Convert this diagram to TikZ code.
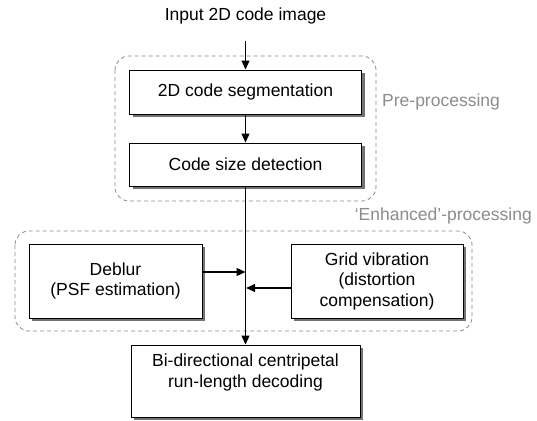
\documentclass[tikz,border=0pt]{standalone}
\usepackage{fontspec}
\setmainfont{Liberation Sans}
\usetikzlibrary{arrows.meta,shadows}
\begin{document}
\begin{tikzpicture}[x=1pt,y=-1pt,
  every node/.style={font=\fontsize{17.5}{20.5}\selectfont},
  procbox/.style={draw=black,line width=1pt,fill=white,align=center,inner sep=0pt,
    drop shadow={shadow xshift=3pt,shadow yshift=-3pt,fill=black!55,opacity=1}},
  group/.style={draw=black!45,line width=0.8pt,dash pattern=on 4pt off 3pt,rounded corners=14pt},
  grouplabel/.style={text=black!45,inner sep=0pt},
  flow/.style={line width=1.2pt,-{Triangle[length=9pt,width=8pt]}},
  plain/.style={line width=1.2pt}]
\useasboundingbox (0,0) rectangle (537,420);
\fill[white] (0,0) rectangle (537,420);
% groups
\draw[group] (115,56) rectangle (376,201);
\draw[group] (15,231) rectangle (472,331);
\node[grouplabel,anchor=west] (prelab) at (382,102) {Pre-processing};
\node[grouplabel,anchor=east] (enhlab) at (532,216) {‘Enhanced’-processing};
% nodes
\node[inner sep=0pt] (input) at (245.5,16) {Input 2D code image};
\coordinate (instart) at (245.5,41);
\node[procbox,minimum width=232pt,minimum height=44pt] (seg) at (245.5,92) {2D code segmentation};
\node[procbox,minimum width=232pt,minimum height=43pt] (size) at (245.5,164.5) {Code size detection};
\node[procbox,minimum width=173pt,minimum height=74pt] (deblur) at (115.5,281) {Deblur\\(PSF estimation)};
\node[procbox,minimum width=172pt,minimum height=74pt] (grid) at (377,281) {Grid vibration\\(distortion\\compensation)};
\node[procbox,minimum width=229pt,minimum height=72pt] (dec) at (245.5,381) {};
\node[inner sep=0pt,align=center,anchor=north] (dectext) at (245.5,354) {Bi-directional centripetal\\run-length decoding};
\coordinate (j1) at (245.5,272);
\coordinate (j2) at (245.5,288);
% connectors
\draw[flow] (instart) -- (seg.north);
\draw[flow] (seg.south) -- (size.north);
\draw[flow] (size.south) -- (dec.north);
\draw[flow] (deblur.east |- j1) -- (j1);
\draw[flow] (grid.west |- j2) -- ([xshift=0.6pt]j2);
\end{tikzpicture}
\end{document}
